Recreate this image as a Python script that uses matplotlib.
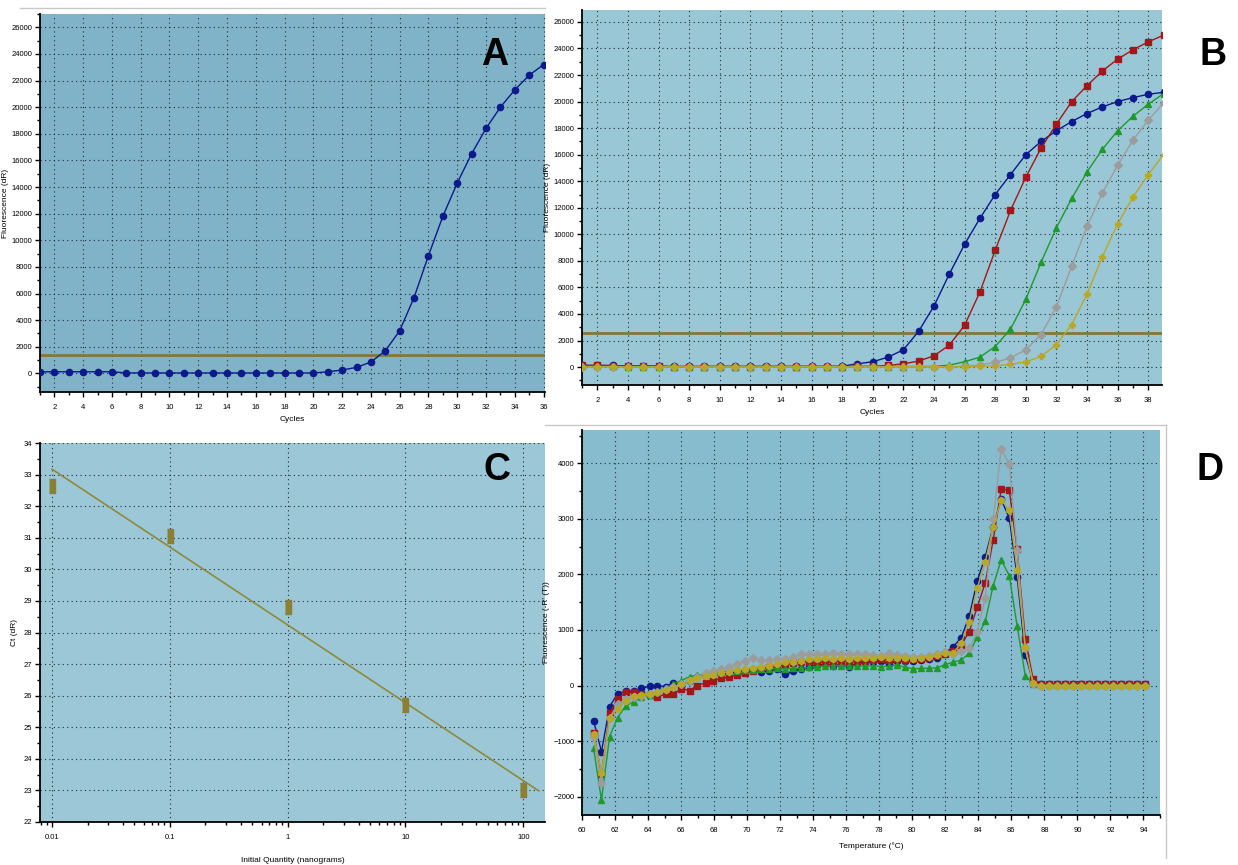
import numpy as np
import matplotlib
matplotlib.use("Agg")
import matplotlib.pyplot as plt
from matplotlib.lines import Line2D
from matplotlib.ticker import MultipleLocator, FixedLocator, NullFormatter

plt.rcParams['font.family'] = ['Liberation Sans', 'DejaVu Sans']

# ---------------- data ----------------
# A: single amplification curve
a_cycles = list(range(1, 37))
a_fluor = [120, 120, 120, 120, 120, 120, 30, 30, 30, 30, 30, 30, 30, 30, 30, 30, 30, 30, 30, 30,
           120, 250, 450, 850, 1700, 3200, 5700, 8850, 11800, 14300, 16500, 18400, 20000, 21300, 22400, 23200]
a_threshold = 1400

# B: dilution series amplification curves
b_cycles = list(range(1, 40))
b_blue = [120, 130, 120, 80, 70, 60, 50, 50, 50, 50, 50, 50, 50, 50, 50, 50, 50, 60,
          250, 400, 750, 1300, 2700, 4600, 7000, 9250, 11200, 13000, 14500, 16000, 17000, 17800,
          18500, 19100, 19600, 20000, 20300, 20550, 20700]
b_red = [130, 120, 110, 80, 80, 80, 0, 20, 40, 40, 40, 40, 40, 40, 40, 40, 40, 40, 50, 60,
         120, 250, 450, 850, 1650, 3150, 5650, 8800, 11800, 14300, 16500, 18300, 20000, 21200,
         22300, 23200, 23900, 24500, 25000]
b_green = [60, 60, 60, 40, 40, 40, 40, 40, 40, 40, 40, 40, 40, 40, 40, 40, 40, 40, 40, 40, 40, 40, 40, 50,
           150, 400, 750, 1550, 2850, 5100, 7900, 10500, 12700, 14700, 16400, 17800, 18900, 19800, 20600]
b_gray = [20, 20, 20, 20, 20, 20, 20, 20, 20, 20, 20, 20, 20, 20, 20, 20, 20, 20, 20, 20, 20, 20, 20, 20, 30, 60,
          150, 350, 700, 1300, 2450, 4550, 7600, 10600, 13100, 15200, 17100, 18600, 19900]
b_olive = [10, 10, 10, 10, 10, 10, 10, 10, 10, 10, 10, 10, 10, 10, 10, 10, 10, 10, 10, 10, 10, 10, 10, 10, 10, 20, 50,
           100, 200, 400, 800, 1700, 3200, 5500, 8300, 10800, 12800, 14500, 16000]
b_threshold = 2600

# C: standard curve
c_quantity = [0.01, 0.1, 1, 10, 100]
c_ct = [32.65, 31.05, 28.8, 25.7, 23.0]

# D: melt curves
d_temp = np.round(60.7 + 0.484 * np.arange(70), 2)
d_blue = [-630, -1190, -380, -150, -100, -100, -50, -10, 0, -20, 50, 20, 90, 150, 200, 210, 200, 230, 250, 280,
          300, 250, 260, 300, 200, 260, 300, 330, 370, 380, 360, 380, 340, 400, 420, 430, 440, 380, 450, 440,
          450, 460, 470, 500, 590, 700, 860, 1250, 1880, 2320, 2860, 3350, 3020, 1960, 550, 70,
          30, 20, 20, 20, 20, 20, 20, 20, 20, 20, 30, 30, 30, 30]
d_red = [-850, -1600, -500, -240, -120, -120, -150, -170, -210, -150, -150, -60, -90, 0, 50, 90, 130, 150, 190, 220,
         270, 290, 330, 340, 370, 400, 430, 430, 420, 420, 430, 440, 440, 440, 450, 460, 470, 460, 470, 460,
         480, 470, 500, 540, 570, 630, 730, 970, 1410, 1850, 2620, 3530, 3520, 2450, 840, 110,
         30, 20, 20, 20, 20, 20, 20, 20, 20, 20, 20, 20, 20, 20]
d_green = [-1130, -2060, -920, -580, -370, -290, -210, -170, -120, -40, 30, 90, 160, 190, 190, 220, 240, 260, 270, 280,
           280, 290, 300, 310, 300, 310, 310, 330, 340, 350, 360, 360, 350, 350, 350, 360, 340, 350, 370, 330,
           300, 310, 310, 320, 380, 420, 460, 580, 870, 1160, 1800, 2260, 1980, 1070, 180, 30,
           10, 10, 10, 10, 10, 10, 10, 10, 10, 10, 10, 10, 10, 10]
d_gray = [-930, -1750, -580, -340, -240, -210, -180, -160, -120, -60, -20, 30, 90, 150, 220, 270, 290, 340, 390, 440,
          490, 460, 460, 470, 480, 510, 570, 560, 560, 570, 580, 570, 560, 570, 560, 550, 540, 580, 550, 540,
          520, 520, 540, 560, 610, 570, 630, 670, 960, 1580, 2990, 4260, 3990, 2440, 670, 30,
          0, 0, 0, 0, 0, 0, 0, 0, 0, 0, 0, 0, 0, 0]
d_olive = [-870, -1570, -580, -420, -270, -190, -170, -150, -110, -80, -30, 30, 100, 130, 170, 190, 230, 240, 280, 300,
           320, 340, 360, 390, 420, 430, 450, 470, 480, 490, 480, 490, 480, 500, 490, 500, 510, 500, 500, 490,
           480, 500, 520, 550, 580, 590, 760, 1150, 1750, 2230, 2850, 3340, 3160, 2080, 700, 40,
           0, 0, 0, 0, 0, 0, 0, 0, 0, 0, 0, 0, 0, 0]

# ---------------- styling ----------------
W, H = 1238, 865
NAVY = '#0c1a8c'
RED = '#a3161a'
GREEN = '#1e9a2c'
GRAY = '#9c9c9c'
OLIVE = '#b8a82a'
THRESH = '#7f7a38'
TICKFS = 5.5

fig = plt.figure(figsize=(W / 100, H / 100), dpi=100)


def panel(left, top, right, bottom, bg):
    ax = fig.add_axes([left / W, 1 - bottom / H, (right - left) / W, (bottom - top) / H])
    ax.set_facecolor(bg)
    for s in ['top', 'right']:
        ax.spines[s].set_visible(False)
    for s in ['left', 'bottom']:
        ax.spines[s].set_linewidth(1.3)
    ax.tick_params(which='major', length=3.5, width=1, labelsize=TICKFS, pad=2)
    ax.tick_params(axis='x', which='major', pad=5)
    ax.tick_params(which='minor', length=2.5, width=1)
    ax.grid(True, which='major', color='#1f2f38', linestyle=(0, (1, 3)), linewidth=0.8)
    ax.set_axisbelow(True)
    return ax


def frame_line(x0, y0, x1, y1):
    fig.add_artist(Line2D([x0 / W, x1 / W], [1 - y0 / H, 1 - y1 / H], color='#c8c8c8', lw=1))


# screenshot borders
frame_line(20, 8, 545, 8)
frame_line(545, 425, 1166, 425)
frame_line(1166, 425, 1166, 858)

# A
axA = panel(40, 14, 545, 392, '#80b3c7')
axA.axhline(a_threshold, color=THRESH, lw=2, zorder=2)
axA.plot(a_cycles, a_fluor, color=NAVY, lw=1, marker='o', ms=4.5, zorder=3)
axA.set_xlim(1, 36.1)
axA.set_ylim(-1400, 27000)
axA.xaxis.set_major_locator(MultipleLocator(2))
axA.xaxis.set_minor_locator(MultipleLocator(1))
axA.yaxis.set_major_locator(MultipleLocator(2000))
axA.yaxis.set_minor_locator(MultipleLocator(1000))
axA.set_ylabel('Fluorescence (dR)', fontsize=6, labelpad=2)
axA.set_xlabel('Cycles', fontsize=6, labelpad=4)

# B
axB = panel(582, 10, 1162, 385, '#9ac7d5')
axB.axhline(b_threshold, color=THRESH, lw=2, zorder=2)
axB.plot(b_cycles, b_blue, color=NAVY, lw=1, marker='o', ms=4.5, zorder=3)
axB.plot(b_cycles, b_red, color=RED, lw=1, marker='s', ms=4.5, zorder=3)
axB.plot(b_cycles, b_green, color=GREEN, lw=1, marker='^', ms=4.5, zorder=3)
axB.plot(b_cycles, b_gray, color=GRAY, lw=1, marker='D', ms=4, zorder=3)
axB.plot(b_cycles, b_olive, color=OLIVE, lw=1, marker='P', ms=4, zorder=3)
axB.set_xlim(1, 38.9)
axB.set_ylim(-1350, 26900)
axB.xaxis.set_major_locator(MultipleLocator(2))
axB.xaxis.set_minor_locator(MultipleLocator(1))
axB.yaxis.set_major_locator(MultipleLocator(2000))
axB.yaxis.set_minor_locator(MultipleLocator(1000))
axB.set_ylabel('Fluorescence (dR)', fontsize=6, labelpad=2)
axB.set_xlabel('Cycles', fontsize=6, labelpad=4)

# C
axC = panel(40, 443, 545, 822, '#9bc7d6')
axC.set_xscale('log')
fit = np.polyfit(np.log10(c_quantity), c_ct, 1)
fit_x = np.array([0.01, 135])
axC.plot(fit_x, np.polyval(fit, np.log10(fit_x)), color='#8d8a3c', lw=1.2, zorder=2)
rect = [(-0.5, -1), (0.5, -1), (0.5, 1), (-0.5, 1)]
axC.plot(c_quantity, c_ct, ls='none', marker=rect, ms=10, color='#8b7e36', zorder=3)
axC.set_xlim(0.0079, 153)
axC.set_ylim(22, 34)
axC.xaxis.set_major_locator(FixedLocator(c_quantity))
axC.set_xticklabels(['0.01', '0.1', '1', '10', '100'])
axC.xaxis.set_minor_formatter(NullFormatter())
axC.yaxis.set_major_locator(MultipleLocator(1))
axC.yaxis.set_minor_locator(MultipleLocator(0.5))
axC.set_ylabel('Ct (dR)', fontsize=6, labelpad=4)
axC.set_xlabel('Initial Quantity (nanograms)', fontsize=6, labelpad=12)

# D
axD = panel(582, 430, 1160, 815, '#87bbce')
axD.plot(d_temp, d_blue, color=NAVY, lw=1, marker='o', ms=4.5, zorder=3)
axD.plot(d_temp, d_red, color=RED, lw=1, marker='s', ms=4.5, zorder=3)
axD.plot(d_temp, d_green, color=GREEN, lw=1, marker='^', ms=4.5, zorder=3)
axD.plot(d_temp, d_gray, color=GRAY, lw=1, marker='D', ms=4, zorder=3)
axD.plot(d_temp, d_olive, color=OLIVE, lw=1, marker='h', ms=4.5, zorder=3)
axD.set_xlim(60, 95)
axD.set_ylim(-2330, 4600)
axD.xaxis.set_major_locator(MultipleLocator(2))
axD.xaxis.set_minor_locator(MultipleLocator(1))
axD.yaxis.set_major_locator(MultipleLocator(1000))
axD.yaxis.set_minor_locator(MultipleLocator(500))
axD.set_ylabel("Fluorescence (-R' (T))", fontsize=6, labelpad=2)
axD.set_xlabel('Temperature (°C)', fontsize=6, labelpad=6)

# panel letters
for letter, (px, py) in zip('ABCD', [(495, 55), (1213, 55), (497, 470), (1210, 470)]):
    fig.text(px / W, 1 - py / H, letter, fontsize=27, fontweight='bold', ha='center', va='center')

fig.savefig('out.png', dpi=100, facecolor='white')
